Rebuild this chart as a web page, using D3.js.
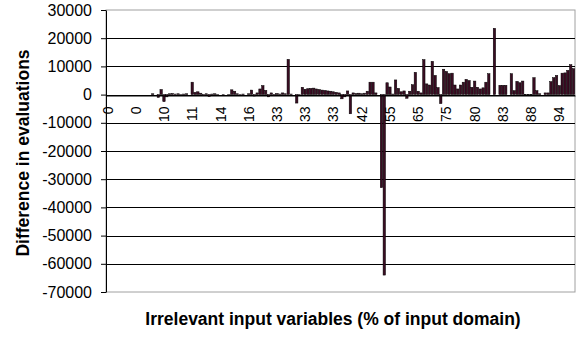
<!DOCTYPE html>
<html>
<head>
<meta charset="utf-8">
<script src="https://cdn.jsdelivr.net/npm/d3@7"></script>
<style>
body { margin: 0; background: #fff; }
text { font-family: "Liberation Sans", Arial, sans-serif; }
</style>
</head>
<body>
<div id="chart-area"></div>
<script>
// category labels shown on every 10th bar
var tickLabels = ["0", "0", "10", "11", "14", "16", "33", "33", "33", "42", "55", "65", "75", "80", "83", "88", "94"];

// difference in evaluations, one value per bar
var differences = [
    0, 0, 0, 0, 0, 0, 0, 0, 0, 0, 0, 0, 0, 0, 0, 0,
    300, 0, -1000, 1800, -2500, -800, 300, 400, 200, 300, 100, 200, 300, 0,
    4400, 800, 1000, 500, -400, 300, -700, 200, 300, 100,
    0, 100, 0, 100, 1700, 1200, 300, 100, 200, 0,
    300, 1600, -500, 600, 2000, 3200, 1500, -800, 600, -400,
    400, 200, 600, 300, 12500, 200, 0, -3000, 100, 2600,
    1900, 2100, 2200, 2300, 2000, 1800, 1600, 1500, 1300, 1200,
    1000, 800, 600, -1500, -800, 1300, -6800, 600, 400, 500,
    300, 500, 1200, 4400, 4400, 600, 0, -33000, -64000, 4200,
    2700, 200, 5200, 2200, 1000, 1300, -1300, 1200, 3500, 7900,
    1200, 600, 12400, 3800, 3400, 11800, 6800, 2500, -3200, 9000,
    8200, 7400, 7600, 3400, 2000, 3400, 4400, 5400, 5000, 2600,
    4800, 2600, 2000, 2400, 4400, 7400, 0, 23500, 0, 3300,
    3300, 3300, 0, 7400, 1400, 4700, 4200, 4800, -100, -100,
    -100, 6000, 1400, 300, 0, 600, 600, 4600, 6000, 6800,
    3200, 7600, 7700, 8600, 10600, 9200
];

var yTicks = [30000, 20000, 10000, 0, -10000, -20000, -30000, -40000, -50000, -60000, -70000];

var margins = {
    top: 10,
    bottom: 45,
    left: 106,
    right: 4,
}

var width = 579 - margins.left - margins.right;
var height = 337 - margins.top - margins.bottom;

var svg = d3.select("#chart-area")
        .append('svg')
        .attr('width', 579)
        .attr('height', 337)

var g = svg.append('g')
        .attr('transform', `translate(${margins.left}, ${margins.top})`);

var y = d3.scaleLinear()
        .domain([-70000, 30000])
        .range([height, 0]);

var x = d3.scaleBand()
        .domain(d3.range(differences.length))
        .range([0, width])
        .paddingInner(0.15)
        .paddingOuter(0.1);

// plot border
g.append('rect')
    .attr('x', 0)
    .attr('y', 0)
    .attr('width', width)
    .attr('height', height)
    .attr('fill', 'none')
    .attr('stroke', '#a0a0a0');

// gridlines
g.selectAll('.grid')
    .data(yTicks.filter(d => d < 30000 && d > -70000))
    .enter()
    .append('line')
    .attr('class', 'grid')
    .attr('x1', 0)
    .attr('x2', width)
    .attr('y1', d => Math.round(y(d)) + 0.5)
    .attr('y2', d => Math.round(y(d)) + 0.5)
    .attr('stroke', '#000')
    .attr('stroke-width', 1);

// bars
g.selectAll('.bar')
    .data(differences)
    .enter()
    .append('rect')
    .attr('class', 'bar')
    .attr('x', (d, i) => x(i))
    .attr('y', d => y(Math.max(0, d)))
    .attr('width', x.bandwidth())
    .attr('height', d => Math.abs(y(d) - y(0)))
    .attr('fill', '#3a0c22')
    .attr('stroke', '#000')
    .attr('stroke-width', 0.5);

// y axis
var yAxisCall = d3.axisLeft(y)
        .tickValues(yTicks)
        .tickFormat(d => String(d))
        .tickSize(5)
        .tickPadding(9)
        .tickSizeOuter(0);

var yAxis = g.append('g')
    .attr('class', 'y-axis')
    .call(yAxisCall);
yAxis.select('.domain').attr('stroke', '#000');
yAxis.selectAll('line').attr('stroke', '#000');
yAxis.selectAll('text')
    .attr('font-size', '16px')
    .attr('fill', '#000')
    .attr('font-family', '"Liberation Sans", Arial, sans-serif');

// x axis on the zero line
var xAxisCall = d3.axisBottom(x)
        .tickValues(d3.range(0, differences.length, 10))
        .tickFormat((d, i) => tickLabels[i])
        .tickSize(0)
        .tickSizeOuter(0);

var xAxis = g.append('g')
    .attr('class', 'x-axis')
    .attr('transform', `translate(0, ${Math.round(y(0)) + 0.5})`)
    .call(xAxisCall);
xAxis.select('.domain').attr('stroke', '#000');
xAxis.selectAll('text')
    .attr('transform', 'rotate(-90)')
    .attr('text-anchor', 'end')
    .attr('x', -11)
    .attr('y', 0)
    .attr('dy', '0.36em')
    .attr('font-size', '14px')
    .attr('fill', '#000')
    .attr('font-family', '"Liberation Sans", Arial, sans-serif');

// axis titles
svg.append('text')
    .attr('class', 'x-axis-label')
    .attr('x', 333)
    .attr('y', 325)
    .attr('font-size', '17.5px')
    .attr('font-weight', 'bold')
    .attr('text-anchor', 'middle')
    .text('Irrelevant input variables (% of input domain)');

svg.append('text')
    .attr('class', 'y-axis-label')
    .attr('transform', 'translate(29, 153) rotate(-90)')
    .attr('font-size', '17.5px')
    .attr('font-weight', 'bold')
    .attr('text-anchor', 'middle')
    .text('Difference in evaluations');
</script>
</body>
</html>
